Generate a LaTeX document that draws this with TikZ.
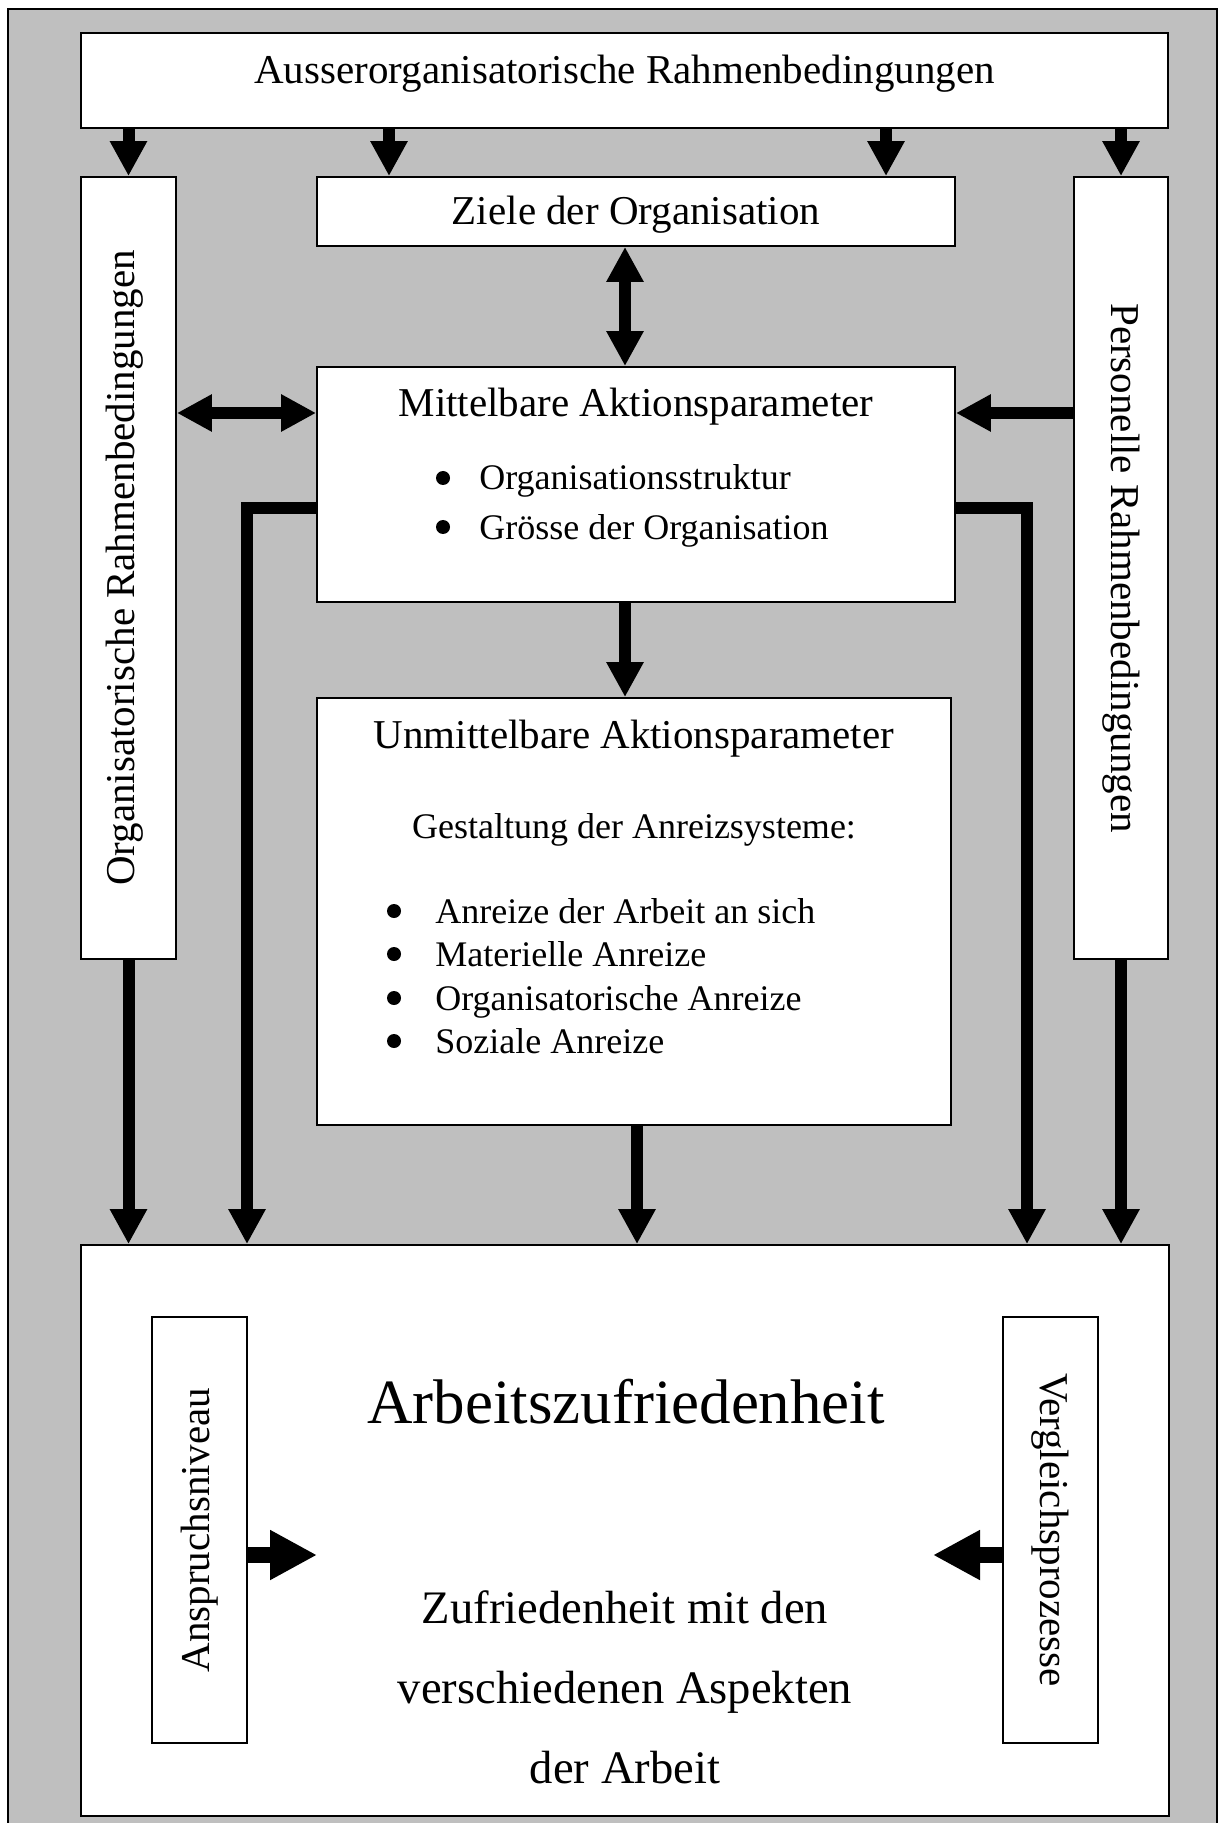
\documentclass[tikz,border=0pt]{standalone}
\usepackage{fontspec}
\setmainfont{Liberation Serif}
\usetikzlibrary{arrows.meta,fit,calc}

\begin{document}
\begin{tikzpicture}[x=0.5pt,y=-0.5pt,
  wbox/.style={draw=black, line width=0.9pt, fill=white, inner sep=0pt},
  big/.style={inner sep=0pt, font=\fontsize{20.5}{24}\selectfont},
  small/.style={inner sep=0pt, font=\fontsize{18}{21}\selectfont},
  dot/.style={circle, fill=black, inner sep=0pt, minimum size=7pt},
  arr/.style={line width=6pt, line join=miter, -{Triangle[width=17.5pt,length=17.5pt]}},
  darr/.style={line width=6pt, {Triangle[width=17.5pt,length=17.5pt]}-{Triangle[width=17.5pt,length=17.5pt]}},
  barr/.style={line width=8pt, -{Triangle[width=23.5pt,length=23.5pt]}},
]
\useasboundingbox (0,0) rectangle (1218,1823);

% grey frame behind everything
\draw[fill=black!25, line width=1.2pt] (8,9) rectangle (1217,1840);

% boxes
\node[wbox, fit={(81,33) (1168,128)}] (top) {};
\node[wbox, fit={(317,177) (955,246)}] (zie) {};
\node[wbox, fit={(81,177) (176,959)}] (orgL) {};
\node[wbox, fit={(1074,177) (1168,959)}] (perR) {};
\node[wbox, fit={(317,367) (955,602)}] (mit) {};
\node[wbox, fit={(317,698) (951,1125)}] (unm) {};
\node[wbox, fit={(81,1245) (1169,1816)}] (bot) {};
\node[wbox, fit={(152,1317) (247,1743)}] (ansp) {};
\node[wbox, fit={(1003,1317) (1098,1743)}] (verg) {};

% box labels
\node[big] (topT) at ([yshift=3.5pt]top.center) {Ausserorganisatorische Rahmenbedingungen};
\node[big] (zieT) at ([yshift=-1.75pt]zie.center) {Ziele der Organisation};
\node[big, rotate=90] (orgT) at ([xshift=-2pt]orgL.center) {Organisatorische Rahmenbedingungen};
\node[big, rotate=-90] (perT) at (perR.center) {Personelle Rahmenbedingungen};
\node[big, rotate=90] (anspT) at (ansp.center) {Anspruchsniveau};
\node[big, rotate=-90] (vergT) at (verg.center) {Vergleichsprozesse};

% texts of the middle boxes
\node[big, anchor=base] (mitT) at (636,417) {Mittelbare Aktionsparameter};
\node[dot] (mb1) at (443,478) {};
\node[small, anchor=base west] (mi1) at (479,490) {Organisationsstruktur};
\node[dot] (mb2) at (443,527) {};
\node[small, anchor=base west] (mi2) at (479,539) {Grösse der Organisation};

\node[big, anchor=base] (unmT) at (634,748) {Unmittelbare Aktionsparameter};
\node[small, anchor=base] (unmS) at (634,838) {Gestaltung der Anreizsysteme:};
\node[dot] (ub1) at (394,911) {};
\node[small, anchor=base west] (ui1) at (435,923) {Anreize der Arbeit an sich};
\node[dot] (ub2) at (394,954) {};
\node[small, anchor=base west] (ui2) at (435,966) {Materielle Anreize};
\node[dot] (ub3) at (394,998) {};
\node[small, anchor=base west] (ui3) at (435,1010) {Organisatorische Anreize};
\node[dot] (ub4) at (394,1041) {};
\node[small, anchor=base west] (ui4) at (435,1053) {Soziale Anreize};

% texts of the result box
\node[inner sep=0pt, anchor=base, font=\fontsize{31.5}{38}\selectfont] (botT) at (626,1423) {Arbeitszufriedenheit};
\node[inner sep=0pt, anchor=base, font=\fontsize{23.3}{28}\selectfont] (bot1) at (625,1623) {Zufriedenheit mit den};
\node[inner sep=0pt, anchor=base, font=\fontsize{23.3}{28}\selectfont] (bot2) at (625,1703) {verschiedenen Aspekten};
\node[inner sep=0pt, anchor=base, font=\fontsize{23.3}{28}\selectfont] (bot3) at (625,1783) {der Arbeit};

% guide lines for the connectors
\coordinate (xZ) at (389,0);
\coordinate (xP) at (886,0);
\coordinate (xM) at (625,0);
\coordinate (xU) at (637,0);
\coordinate (xEl) at (247,0);
\coordinate (xEr) at (1027,0);
\coordinate (yH) at (0,413);
\coordinate (yE) at (0,508);
\coordinate (yA) at (0,1555);
\coordinate (tipA) at (317,1555);
\coordinate (tipV) at (933,1555);

% connectors from the outer conditions
\draw[arr] (orgL.north |- top.south) -- (orgL.north);
\draw[arr] (top.south -| xZ) -- (zie.north -| xZ);
\draw[arr] (top.south -| xP) -- (zie.north -| xP);
\draw[arr] (perR.north |- top.south) -- (perR.north);

% connectors around the action parameters
\draw[darr] (zie.south -| xM) -- (mit.north -| xM);
\draw[darr] (orgL.east |- yH) -- (mit.west |- yH);
\draw[arr] (perR.west |- yH) -- (mit.east |- yH);
\draw[arr] (mit.south -| xM) -- (unm.north -| xM);
\draw[arr] (mit.west |- yE) -| (bot.north -| xEl);
\draw[arr] (mit.east |- yE) -| (bot.north -| xEr);
\draw[arr] (unm.south -| xU) -- (bot.north -| xU);
\draw[arr] (orgL.south) -- (orgL.south |- bot.north);
\draw[arr] (perR.south) -- (perR.south |- bot.north);

% inner arrows of the result box
\draw[barr] (ansp.east |- yA) -- (tipA);
\draw[barr] (verg.west |- yA) -- (tipV);
\end{tikzpicture}
\end{document}
